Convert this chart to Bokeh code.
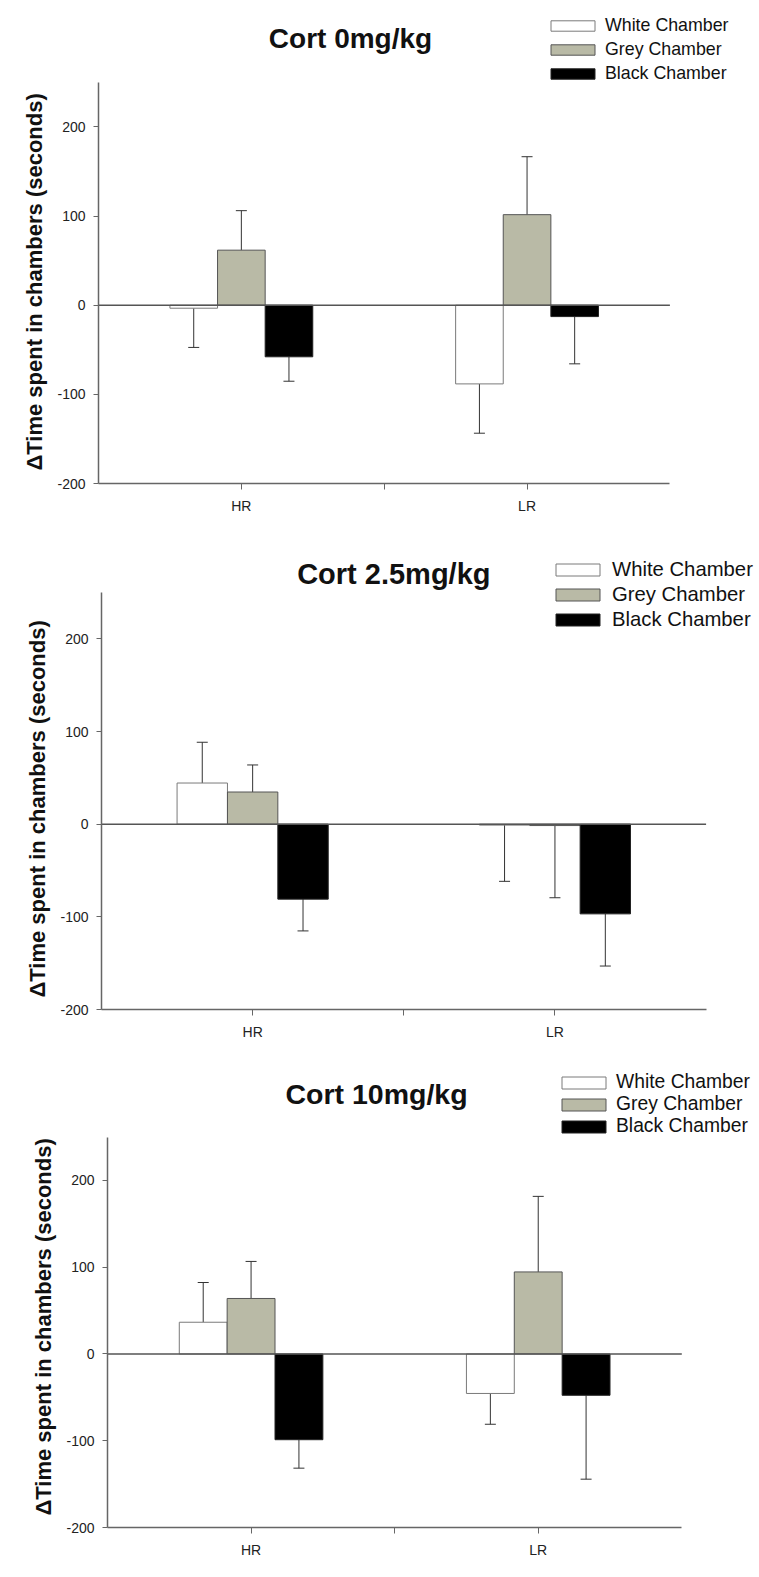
from bokeh.plotting import figure
from bokeh.models import (ColumnDataSource, Range1d, FixedTicker, Legend, LegendItem,
                          Whisker, TeeHead, Label, Title)
from bokeh.embed import file_html
from bokeh.resources import INLINE

# ---------------- data ----------------
groups = ["HR", "LR"]
series = ["White Chamber", "Grey Chamber", "Black Chamber"]
titles = ["Cort 0mg/kg", "Cort 2.5mg/kg", "Cort 10mg/kg"]
y_label = "\u0394Time spent in chambers (seconds)"

cort0_white = [-3.4, -88.3]
cort0_grey = [61.7, 101.5]
cort0_black = [-57.9, -12.8]
cort0_white_err = [44.0, 55.3]
cort0_grey_err = [44.3, 65.0]
cort0_black_err = [27.4, 53.0]

cort25_white = [44.4, -1.0]
cort25_grey = [34.7, -1.5]
cort25_black = [-80.9, -96.8]
cort25_white_err = [44.0, 60.7]
cort25_grey_err = [29.2, 77.9]
cort25_black_err = [34.3, 56.3]

cort10_white = [36.6, -45.5]
cort10_grey = [64.0, 94.6]
cort10_black = [-98.8, -47.6]
cort10_white_err = [45.8, 35.5]
cort10_grey_err = [42.7, 87.1]
cort10_black_err = [32.8, 96.7]

y_ticks = [-200, -100, 0, 100, 200]
y_tick_labels = ["-200", "-100", "0", "100", "200"]
y_axis_top = 250

panels = [
    dict(title=titles[0],
         means=[cort0_white, cort0_grey, cort0_black],
         errs=[cort0_white_err, cort0_grey_err, cort0_black_err]),
    dict(title=titles[1],
         means=[cort25_white, cort25_grey, cort25_black],
         errs=[cort25_white_err, cort25_grey_err, cort25_black_err]),
    dict(title=titles[2],
         means=[cort10_white, cort10_grey, cort10_black],
         errs=[cort10_white_err, cort10_grey_err, cort10_black_err]),
]

# ---------------- styling / layout ----------------
FONT = "Liberation Sans, Arial, sans-serif"
fills = ["#ffffff", "#b9baa6", "#000000"]
outlines = ["#7a7a7a", "#555555", "#222222"]
BAR_W = 1.0 / 6.0
offsets = [-BAR_W, 0.0, BAR_W]
FIG_W = 759

geo = [
    dict(h=520, bl=98, bb=37, xend=2.3136, yend=341.7, tx=0.882, ty=299.0, tfs="28px",
         leg=(447, 399), sp=3, lfs="17.8px", gh=13, lso=5, yoff=13),
    dict(h=525, bl=101, bb=36, xend=2.1767, yend=327.7, tx=0.967, ty=270.5, tfs="29px",
         leg=(449, 378), sp=2, lfs="20.3px", gh=15, lso=7, yoff=12),
    dict(h=525, bl=107, bb=43, xend=2.2706, yend=355.6, tx=0.937, ty=300.2, tfs="28.5px",
         leg=(449, 390), sp=0, lfs="19.3px", gh=15, lso=5, yoff=12),
]

figs = []
for pan, g in zip(panels, geo):
    p = figure(width=FIG_W, height=g["h"], output_backend="svg", toolbar_location=None,
               x_range=Range1d(0, g["xend"]), y_range=Range1d(y_ticks[0], g["yend"]),
               min_border_top=0, min_border_bottom=g["bb"],
               min_border_left=g["bl"], min_border_right=0)
    p.outline_line_color = None
    p.xgrid.visible = False
    p.ygrid.visible = False
    p.background_fill_color = "white"
    p.border_fill_color = "white"

    items = []
    pos = dict(x=[], lower=[], upper=[])
    neg = dict(x=[], lower=[], upper=[])
    for k, name in enumerate(series):
        xs = [i + 0.5 + offsets[k] for i in range(len(groups))]
        src = ColumnDataSource(dict(x=xs, y=pan["means"][k], err=pan["errs"][k], grp=groups))
        r = p.vbar(x="x", top="y", bottom=0, width=BAR_W, source=src,
                   fill_color=fills[k], line_color=outlines[k], line_width=1)
        items.append(LegendItem(label=name, renderers=[r]))
        for xv, m, e in zip(xs, pan["means"][k], pan["errs"][k]):
            if m >= 0:
                pos["x"].append(xv); pos["lower"].append(m); pos["upper"].append(m + e)
            else:
                neg["x"].append(xv); neg["lower"].append(m - e); neg["upper"].append(m)

    # zero reference line across the axis extent
    p.segment(x0=[0], y0=[0], x1=[len(groups)], y1=[0], line_color="#555555", line_width=1.5)

    p.add_layout(Whisker(base="x", lower="lower", upper="upper", source=ColumnDataSource(pos),
                         upper_head=TeeHead(size=11, line_color="#333333", line_width=1),
                         lower_head=None, line_color="#333333", line_width=1))
    p.add_layout(Whisker(base="x", lower="lower", upper="upper", source=ColumnDataSource(neg),
                         lower_head=TeeHead(size=11, line_color="#333333", line_width=1),
                         upper_head=None, line_color="#333333", line_width=1))

    # panel title
    p.add_layout(Label(x=g["tx"], y=g["ty"], text=pan["title"], text_align="center",
                       text_baseline="middle", text_font=FONT, text_font_size=g["tfs"],
                       text_font_style="bold", text_color="#111111"))

    # axes
    p.yaxis.ticker = FixedTicker(ticks=y_ticks)
    p.yaxis.major_label_overrides = dict(zip(y_ticks, y_tick_labels))
    p.yaxis.bounds = (y_ticks[0], y_axis_top)
    p.yaxis.major_label_text_font = FONT
    p.yaxis.major_label_text_font_size = "14px"
    p.yaxis.major_label_text_color = "#222222"
    p.yaxis.major_label_standoff = 8
    p.yaxis.major_tick_out = 5
    p.yaxis.major_tick_in = 0
    p.yaxis.minor_tick_line_color = None
    p.yaxis.axis_line_color = "#666666"
    p.yaxis.axis_line_width = 1.5
    p.yaxis.major_tick_line_color = "#666666"

    p.add_layout(Title(text=y_label, align="left", offset=g["yoff"], standoff=16,
                       text_font=FONT, text_font_size="22px", text_font_style="bold",
                       text_color="#111111"), "left")

    p.xaxis.ticker = FixedTicker(ticks=[0.5, 1, 1.5])
    p.xaxis.bounds = (0, len(groups))
    p.xaxis.major_label_overrides = {0.5: groups[0], 1: "", 1.5: groups[1]}
    p.xaxis.major_label_text_font = FONT
    p.xaxis.major_label_text_font_size = "14px"
    p.xaxis.major_label_text_color = "#222222"
    p.xaxis.major_label_standoff = 8
    p.xaxis.major_tick_out = 6
    p.xaxis.major_tick_in = 0
    p.xaxis.minor_tick_line_color = None
    p.xaxis.axis_line_color = "#666666"
    p.xaxis.axis_line_width = 1.5
    p.xaxis.major_tick_line_color = "#666666"

    leg = Legend(items=items, location=g["leg"], orientation="vertical",
                 glyph_width=55, glyph_height=g["gh"], label_height=g["gh"],
                 spacing=g["sp"], padding=0, margin=0, label_standoff=g["lso"],
                 label_text_font=FONT, label_text_font_size=g["lfs"],
                 label_text_color="#111111", border_line_color=None,
                 background_fill_alpha=0)
    p.add_layout(leg)
    figs.append(p)

open("out.html", "w").write(file_html(figs, INLINE))
